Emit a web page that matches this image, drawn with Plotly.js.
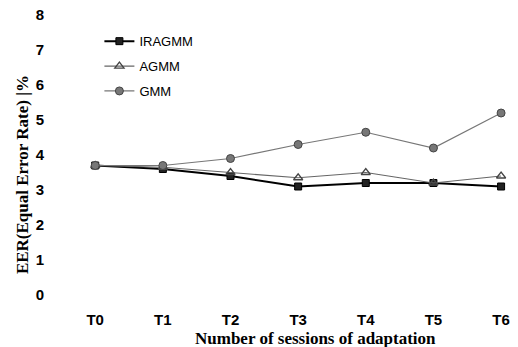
<!DOCTYPE html>
<html><head><meta charset="utf-8">
<script src="https://cdn.plot.ly/plotly-3.0.1.min.js"></script>
<style>html,body{margin:0;padding:0;background:#fff;}</style>
</head><body>
<div id="chart" style="width:518px;height:347px;"></div>
<script>
const sessions = ["T0","T1","T2","T3","T4","T5","T6"];
const iragmm = [3.7, 3.6, 3.4, 3.1, 3.2, 3.2, 3.1];
const agmm   = [3.7, 3.65, 3.5, 3.35, 3.5, 3.2, 3.4];
const gmm    = [3.7, 3.7, 3.9, 4.3, 4.65, 4.2, 5.2];
const yTicks = [0,1,2,3,4,5,6,7,8];

const traces = [
  {x: sessions, y: iragmm, name: "IRAGMM", legendgroup: "a", mode: "lines+markers",
   line: {color: "#000", width: 2}, marker: {symbol: "square", size: 7, color: "#222", line:{color:"#000",width:1}}},
  {x: sessions, y: agmm, name: "AGMM", legendgroup: "b", mode: "lines+markers",
   line: {color: "#666", width: 1.2}, marker: {symbol: "triangle-up-open", size: 8, color: "#444", line:{width:1.3}}},
  {x: sessions, y: gmm, name: "GMM", legendgroup: "c", mode: "lines+markers",
   line: {color: "#777", width: 1.2}, marker: {symbol: "circle", size: 8, color: "#777", line:{color:"#444",width:1}}}
];

const layout = {
  width: 518, height: 347,
  margin: {l: 58, r: 0, t: 15, b: 52},
  paper_bgcolor: "#fff", plot_bgcolor: "#fff",
  showlegend: true,
  legend: {x: 0.09, y: 0.96, xanchor: "left", yanchor: "top", bgcolor: "rgba(0,0,0,0)",
    tracegroupgap: 5,
    font: {family: "Arial, Liberation Sans, sans-serif", size: 13, color: "#000"}},
  xaxis: {type: "category", range: [-0.55, 6.25], showgrid: false, zeroline: false, showline: false,
    ticks: "outside", ticklen: 11, tickcolor: "rgba(0,0,0,0)",
    tickfont: {family: "Arial, Liberation Sans, sans-serif", size: 15, color: "#000", weight: "bold"}},
  yaxis: {range: [0, 8], tickvals: yTicks, showgrid: false, zeroline: false, showline: false,
    ticks: "outside", ticklen: 10, tickcolor: "rgba(0,0,0,0)",
    tickfont: {family: "Arial, Liberation Sans, sans-serif", size: 15, color: "#000", weight: "bold"}},
  annotations: [
    {text: "<b>Number of sessions of adaptation</b>", xref: "paper", yref: "paper",
     x: (315 - 58) / 460, y: -(339 - 295) / 280, xanchor: "center", yanchor: "middle", showarrow: false,
     font: {family: "Times New Roman, Liberation Serif, serif", size: 17, color: "#000"}},
    {text: "<b>EER(Equal Error Rate) |%</b>", xref: "paper", yref: "paper",
     x: -0.078, y: (295 - 175) / 280, xanchor: "center", yanchor: "middle", textangle: -90, showarrow: false,
     font: {family: "Times New Roman, Liberation Serif, serif", size: 17, color: "#000"}}
  ]
};
Plotly.newPlot("chart", traces, layout, {staticPlot: true, displayModeBar: false});
</script>
</body></html>
